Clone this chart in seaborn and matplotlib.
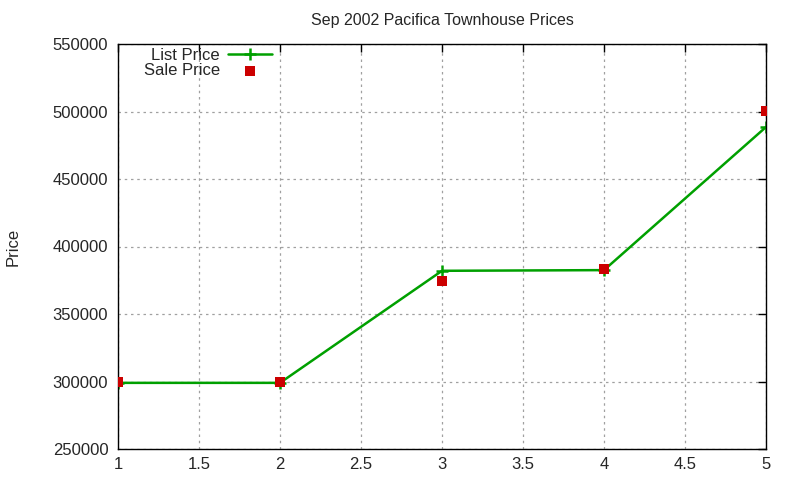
import matplotlib
matplotlib.use("Agg")
import matplotlib.pyplot as plt
import seaborn as sns
import pandas as pd
import numpy as np
from matplotlib.ticker import MultipleLocator, FuncFormatter

house = [1, 2, 3, 4, 5]
list_price = [299000, 299000, 382000, 382500, 488500]
sale_price = [299500, 299500, 374500, 383000, 500500]

sns.set_style("white")
plt.rcParams['font.family'] = ['Liberation Sans', 'DejaVu Sans']

df = pd.DataFrame({"house": house, "List Price": list_price, "Sale Price": sale_price})

fig = plt.figure(figsize=(8, 4.8), dpi=100)
ax = fig.add_axes([118/800, 1-449/480, (766-118)/800, (449-44)/480])

sns.lineplot(data=df, x="house", y="List Price", ax=ax, color="#00a000", lw=1.8,
             marker="+", markersize=9, markeredgewidth=1.8, markeredgecolor="#00a000",
             label="List Price")
sns.scatterplot(data=df, x="house", y="Sale Price", ax=ax, color="#cc0000",
                marker="s", s=50, linewidth=0, label="Sale Price", zorder=5)

ax.set_xlim(1, 5)
ax.set_ylim(250000, 550000)
ax.xaxis.set_major_locator(MultipleLocator(0.5))
ax.yaxis.set_major_locator(MultipleLocator(50000))
ax.xaxis.set_major_formatter(FuncFormatter(lambda v, p: f"{v:g}"))
ax.yaxis.set_major_formatter(FuncFormatter(lambda v, p: f"{int(v)}"))
ax.grid(True, color="#a0a0a0", linestyle=(0, (2, 3)), linewidth=0.9)
for s in ax.spines.values():
    s.set_color("black")
    s.set_linewidth(1)
ax.tick_params(direction="in", length=6, top=True, right=True, labelsize=12,
               color="black", width=1)
ax.tick_params(axis="y", pad=7)
ax.tick_params(axis="x", pad=6)
ax.set_xlabel("")
ax.set_ylabel("Price", fontsize=12)
ax.yaxis.set_label_coords(-0.15, 0.5)
ax.set_title("Sep 2002 Pacifica Townhouse Prices", fontsize=11.5, pad=14)

leg = ax.legend(loc="upper left", markerfirst=False, frameon=False, fontsize=12,
                bbox_to_anchor=(0.022, 1.02), handlelength=2.6, labelspacing=0.05,
                borderaxespad=0.3, handletextpad=0.5)

fig.savefig("out.png", dpi=100)
